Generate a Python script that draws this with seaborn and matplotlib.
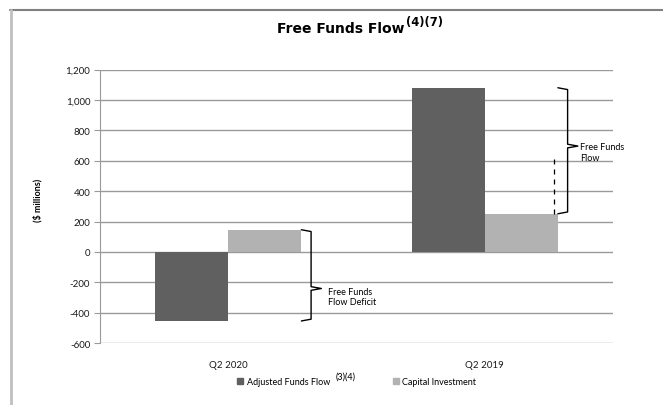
import pandas as pd
import matplotlib.pyplot as plt
import seaborn as sns
from matplotlib.lines import Line2D
from matplotlib.ticker import FuncFormatter

periods = ["Q2 2020", "Q2 2019"]
adjusted_funds_flow = [-455, 1081]
capital_investment = [146, 251]
series_names = ["Adjusted Funds Flow", "Capital Investment"]
colors = ["#606060", "#b2b2b2"]

df = pd.DataFrame({
    "period": periods * 2,
    "series": [series_names[0]] * 2 + [series_names[1]] * 2,
    "value": adjusted_funds_flow + capital_investment,
})

sns.set_style("white")
plt.rcParams["font.family"] = ["Lato", "DejaVu Sans"]
plt.rcParams["text.color"] = "black"
plt.rcParams["axes.labelcolor"] = "black"

fig = plt.figure(figsize=(6.63, 4.06), dpi=100)
ax = fig.add_axes([0.1508, 0.1527, 0.7738, 0.6732])

sns.barplot(data=df, x="period", y="value", hue="series", palette=colors,
            width=0.57, saturation=1, ax=ax, legend=False, linewidth=0)

ax.set_ylim(-600, 1200)
ax.set_xlim(-0.5, 1.5)
ax.set_yticks(range(-600, 1201, 200))
ax.yaxis.set_major_formatter(FuncFormatter(lambda v, p: f"{int(v):,}"))
ax.yaxis.grid(True, color="#9a9a9a", linewidth=1)
ax.set_axisbelow(True)
for side in ["top", "right", "bottom"]:
    ax.spines[side].set_visible(False)
ax.spines["left"].set_color("#9a9a9a")
ax.tick_params(axis="y", direction="out", length=4, color="#9a9a9a",
               labelsize=7, pad=3, left=True, labelcolor="#1a1a1a")
ax.tick_params(axis="x", length=0, labelsize=7, pad=12, labelcolor="#1a1a1a")
ax.set_xlabel("")
ax.set_ylabel(r"(\$ millions)", fontsize=6.5, fontweight="bold")
ax.yaxis.set_label_coords(-0.112, 0.527)

# curly brackets showing free funds flow
def bracket(xc, top, bot, tip, text, text_y):
    x0 = xc + 0.285
    x1 = x0 + 0.038
    x2 = x1 + 0.04
    d = 12
    xs = [x0, x1, x1, x2, x1, x1, x0]
    ys = [top, top - d, tip + d, tip, tip - d, bot + d, bot]
    ax.plot(xs, ys, color="black", linewidth=1.0, clip_on=False)
    ax.text(xc + 0.39 - 0.02 * xc, text_y, text, fontsize=6.5,
            va="center", ha="left", linespacing=1.25)

bracket(0, capital_investment[0], adjusted_funds_flow[0], -241,
        "Free Funds\nFlow Deficit", -293)
bracket(1, adjusted_funds_flow[1], capital_investment[1], 697,
        "Free Funds\nFlow", 657)
ax.plot([1.27, 1.27], [capital_investment[1], 625], color="black",
        linewidth=0.9, linestyle=(0, (4, 4)))

# title with footnote marks
fig.text(0.4178, 0.9195, "Free Funds Flow", ha="left", va="baseline",
         fontsize=10, fontweight="bold", family="DejaVu Sans")
fig.text(0.612, 0.935, "(4)(7)", ha="left", va="baseline",
         fontsize=8.3, fontweight="bold", family="DejaVu Sans")

handles = [Line2D([], [], marker="s", color=c, linestyle="", markersize=5)
           for c in colors]
leg = fig.legend(handles, series_names, loc="center left",
                 bbox_to_anchor=(0.345, 0.057), ncol=2, frameon=False,
                 fontsize=6.5, handlelength=0.8, handletextpad=0.3,
                 columnspacing=6.9)

fig.canvas.draw()
bb = leg.get_texts()[0].get_window_extent()
fig.text((bb.x1 + 5) / fig.bbox.width, (bb.y1 - 3) / fig.bbox.height,
         "(3)(4)", fontsize=6.5, ha="left", va="bottom")

# page border
fig.add_artist(Line2D([0.015, 1.0], [0.973, 0.973], color="#808080",
                      linewidth=1.5, transform=fig.transFigure))
fig.add_artist(Line2D([0.016, 0.016], [0.0, 0.973], color="#c0c0c0",
                      linewidth=2, transform=fig.transFigure))

fig.savefig("out.png", dpi=100)
